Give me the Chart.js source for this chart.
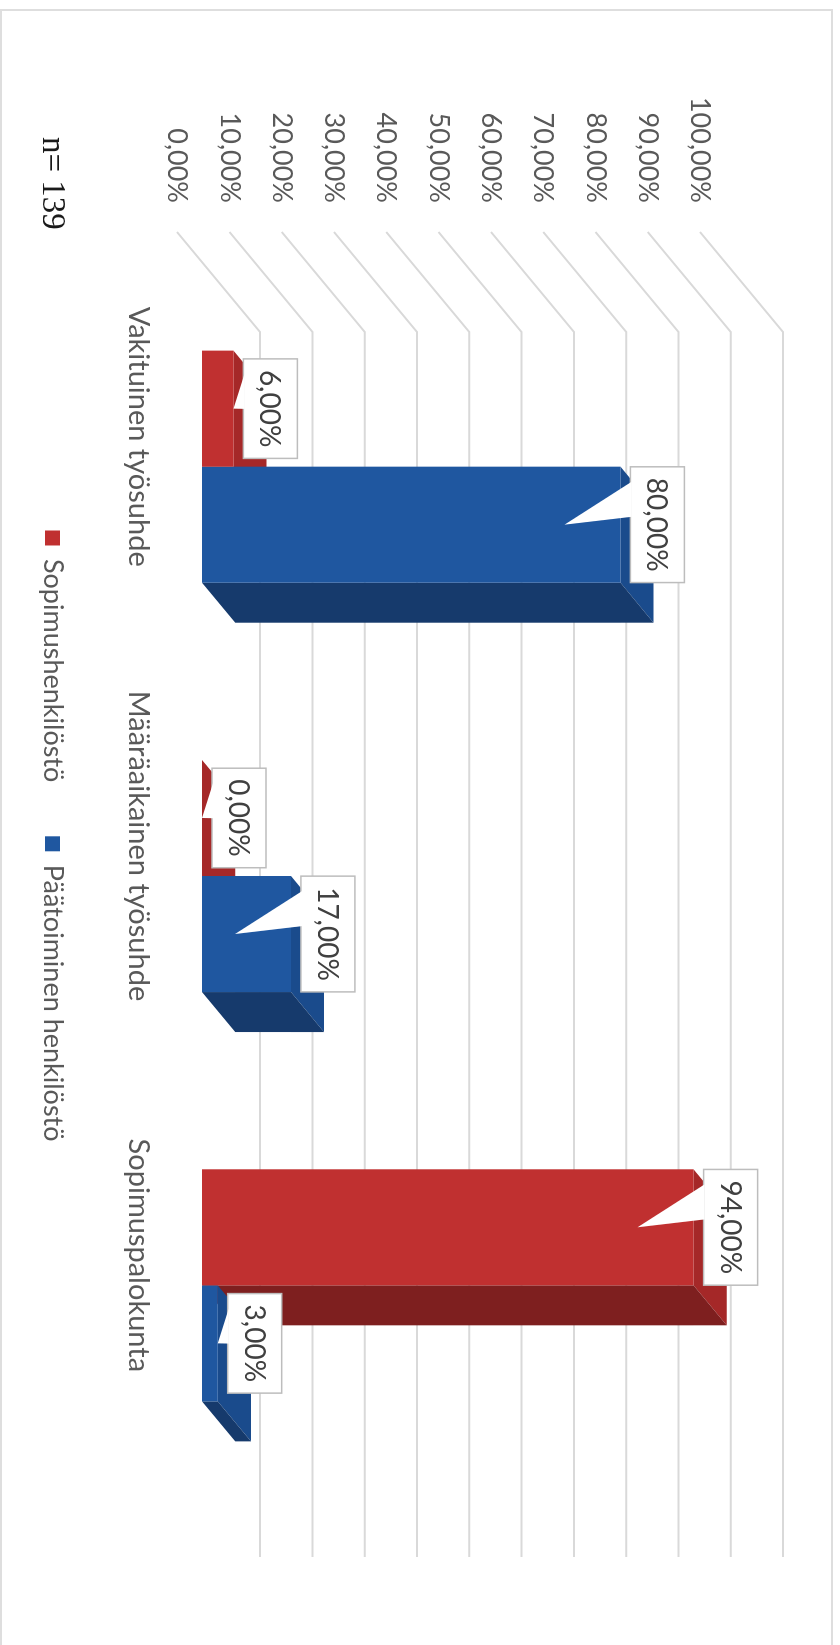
<!DOCTYPE html>
<html>
<head>
<meta charset="utf-8">
<title>Henkilöstö</title>
<script src="https://cdn.jsdelivr.net/npm/chart.js@4.4.0/dist/chart.umd.min.js"></script>
<style>
  html, body { margin: 0; padding: 0; background: #fff; overflow: hidden; }
  /* outer frame, open at the bottom */
  #frame {
    position: absolute; left: 0; top: 9px; width: 833px; height: 1700px;
    border: 2px solid #dedede; border-bottom: none; box-sizing: border-box;
  }
  /* the chart is laid out landscape and turned a quarter clockwise */
  #wrap {
    position: absolute; left: 0; top: 0; width: 1645px; height: 840px;
    transform-origin: 0 0; transform: translate(840px, 0) rotate(90deg);
  }
</style>
</head>
<body>
<div id="frame"></div>
<div id="wrap"><canvas id="chart" width="1645" height="840"></canvas></div>
<script>
    'use strict';

    // Data
    const categories = ['Vakituinen työsuhde', 'Määräaikainen työsuhde', 'Sopimuspalokunta'];
    const seriesNames = ['Sopimushenkilöstö', 'Päätoiminen henkilöstö'];
    const sopimusValues = [6, 0, 94];
    const paatoiminenValues = [80, 17, 3];
    const yTickLabels = ['0,00%', '10,00%', '20,00%', '30,00%', '40,00%', '50,00%',
        '60,00%', '70,00%', '80,00%', '90,00%', '100,00%'];
    const sampleNote = 'n= 139';

    // Colours: front / top / side of each bar
    const shades = [
        { front: '#c03030', top: '#a52828', side: '#7e1f1f' },
        { front: '#1f57a0', top: '#1a4b8c', side: '#163a6c' }
    ];

    const textColor = '#595959';
    const gridColor = '#d9d9d9';
    const fontFamily = 'Lato, "Open Sans", sans-serif';
    const baseFont = { family: fontFamily, size: 27 };
    const categoryFont = { family: fontFamily, size: 29 };
    const valueFontSize = 28;

    // Depth of the 3D box (front of side wall -> back wall), bars sit between 0.3 and 0.7
    const DEPTH_X = 100;
    const DEPTH_Y = -83;
    const BAR_FRONT = 0.3;
    const BAR_BACK = 0.7;

    // legend sits a little right of the plot centre
    const LEGEND_SHIFT = 46;

    const formatPercent = function(v) {
        return v.toFixed(2).replace('.', ',') + '%';
    };

    // Walls, gridlines and the top/side faces of the bars
    const box3d = {
        id: 'box3d',
        afterLayout: function(chart) {
            if (chart.legend) {
                chart.legend.left += LEGEND_SHIFT;
                chart.legend.right += LEGEND_SHIFT;
            }
        },

        beforeDatasetsDraw: function(chart) {
            const ctx = chart.ctx;
            const area = chart.chartArea;
            const yScale = chart.scales.y;

            const fx = -BAR_FRONT * DEPTH_X, fy = -BAR_FRONT * DEPTH_Y;
            const bx = (1 - BAR_FRONT) * DEPTH_X, by = (1 - BAR_FRONT) * DEPTH_Y;

            ctx.save();
            ctx.strokeStyle = gridColor;
            ctx.lineWidth = 2;
            yScale.ticks.forEach(function(t) {
                const y = yScale.getPixelForValue(t.value);
                ctx.beginPath();
                ctx.moveTo(area.left + fx, y + fy);
                ctx.lineTo(area.left + bx, y + by);
                ctx.lineTo(area.right + bx - 3, y + by);
                ctx.stroke();
            });

            const dx = (BAR_BACK - BAR_FRONT) * DEPTH_X;
            const dy = (BAR_BACK - BAR_FRONT) * DEPTH_Y;

            chart.data.datasets.forEach(function(ds, i) {
                const meta = chart.getDatasetMeta(i);
                meta.data.forEach(function(el) {
                    const p = el.getProps(['x', 'y', 'base', 'width'], true);
                    const left = p.x - p.width / 2;
                    const right = p.x + p.width / 2;
                    const top = Math.min(p.y, p.base);

                    // top face
                    ctx.fillStyle = shades[i].top;
                    ctx.beginPath();
                    ctx.moveTo(left, top);
                    ctx.lineTo(left + dx, top + dy);
                    ctx.lineTo(right + dx, top + dy);
                    ctx.lineTo(right, top);
                    ctx.closePath();
                    ctx.fill();

                    // side face
                    ctx.fillStyle = shades[i].side;
                    ctx.beginPath();
                    ctx.moveTo(right, top);
                    ctx.lineTo(right + dx, top + dy);
                    ctx.lineTo(right + dx, p.base + dy);
                    ctx.lineTo(right, p.base);
                    ctx.closePath();
                    ctx.fill();
                });
            });
            ctx.restore();
        },

        // Callout boxes with the values
        afterDatasetsDraw: function(chart) {
            const ctx = chart.ctx;
            ctx.save();
            ctx.font = valueFontSize + 'px ' + fontFamily;
            ctx.textAlign = 'center';
            ctx.textBaseline = 'middle';

            chart.data.datasets.forEach(function(ds, i) {
                const meta = chart.getDatasetMeta(i);
                meta.data.forEach(function(el, j) {
                    const p = el.getProps(['x', 'y', 'base'], true);
                    const text = formatPercent(ds.data[j]);
                    const bw = ctx.measureText(text).width + 22;
                    const bh = 54;
                    const left = p.x - bw / 2;
                    const bottom = p.y - 10;
                    const top = bottom - bh;

                    ctx.fillStyle = '#ffffff';
                    ctx.strokeStyle = '#bdbdbd';
                    ctx.lineWidth = 1.5;
                    ctx.fillRect(left, top, bw, bh);
                    ctx.strokeRect(left, top, bw, bh);

                    // pointer
                    const tipY = (p.base - p.y) > 80 ? p.y + 56 : p.y;
                    ctx.beginPath();
                    ctx.moveTo(left + 15, bottom - 1);
                    ctx.lineTo(p.x, tipY);
                    ctx.lineTo(left + 50, bottom - 1);
                    ctx.closePath();
                    ctx.fill();

                    ctx.fillStyle = '#404040';
                    ctx.fillText(text, p.x, top + bh / 2 + 1);
                });
            });
            ctx.restore();
        },

        afterDraw: function(chart) {
            const ctx = chart.ctx;
            ctx.save();
            ctx.font = '33px "Liberation Serif", "Times New Roman", serif';
            ctx.fillStyle = '#1a1a1a';
            ctx.textAlign = 'left';
            ctx.textBaseline = 'middle';
            ctx.fillText(sampleNote, 137, 788);
            ctx.restore();
        }
    };

    const ctx = document.getElementById('chart');

    const chart = new Chart(ctx, {
        type: 'bar',
        data: {
            labels: categories,
            datasets: [{
                label: seriesNames[0],
                data: sopimusValues,
                backgroundColor: shades[0].front,
                borderWidth: 0
            }, {
                label: seriesNames[1],
                data: paatoiminenValues,
                backgroundColor: shades[1].front,
                borderWidth: 0
            }]
        },
        options: {
            responsive: false,
            animation: false,
            devicePixelRatio: 1,
            categoryPercentage: 0.567,
            barPercentage: 1.0,
            layout: {
                padding: { top: 115, left: 90, right: 155, bottom: 29 }
            },
            plugins: {
                legend: {
                    position: 'bottom',
                    labels: {
                        boxWidth: 15,
                        boxHeight: 15,
                        padding: 54,
                        color: textColor,
                        font: baseFont
                    }
                },
                tooltip: { enabled: false }
            },
            scales: {
                x: {
                    grid: { display: false, drawTicks: false },
                    border: { display: false },
                    ticks: {
                        padding: 46,
                        labelOffset: -30,
                        color: textColor,
                        font: categoryFont
                    },
                    afterFit: function(scale) {
                        scale.height = 82;
                    }
                },
                y: {
                    min: 0,
                    max: 100,
                    grid: { display: false, drawTicks: false },
                    border: { display: false },
                    ticks: {
                        stepSize: 10,
                        padding: 59,
                        labelOffset: 25,
                        color: textColor,
                        font: baseFont,
                        callback: function(value, index) {
                            return yTickLabels[index];
                        }
                    },
                    afterFit: function(scale) {
                        scale.width = 172;
                    }
                }
            }
        },
        plugins: [box3d]
    });
</script>
</body>
</html>
